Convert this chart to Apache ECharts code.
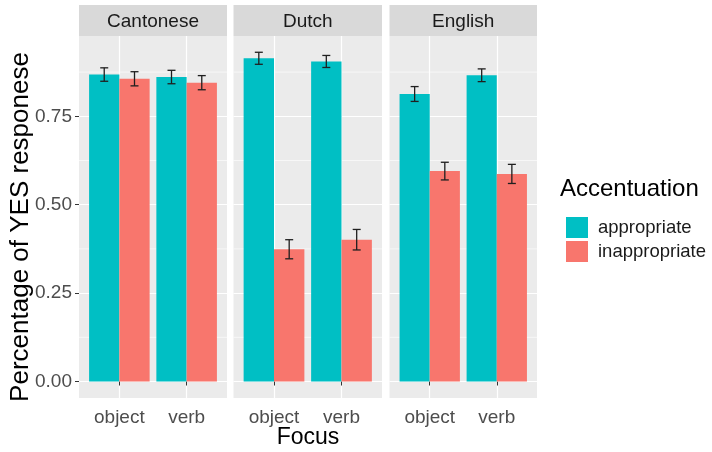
<!DOCTYPE html>
<html>
<head>
<meta charset="utf-8">
<script src="https://cdn.jsdelivr.net/npm/echarts@6/dist/echarts.min.js"></script>
<style>
  html, body { margin: 0; padding: 0; background: #fff; }
  #chart { width: 712px; height: 452px; }
</style>
</head>
<body>
<div id="chart"></div>
<script>
// Facets, x categories and the two accentuation groups
const languages = ['Cantonese', 'Dutch', 'English'];
const focusLevels = ['object', 'verb'];
const accentLevels = ['appropriate', 'inappropriate'];

// Mean proportion of YES responses, ordered language by language, object then verb
const appropriateMean = [0.868, 0.861, 0.914, 0.905, 0.813, 0.866];
const appropriateSE = [0.019, 0.019, 0.017, 0.017, 0.021, 0.018];
const inappropriateMean = [0.856, 0.845, 0.374, 0.401, 0.595, 0.587];
const inappropriateSE = [0.020, 0.020, 0.027, 0.029, 0.025, 0.027];

// Y axis ticks and minor grid positions
const yTicks = [0, 0.25, 0.5, 0.75];
const yMinor = [0.125, 0.375, 0.625, 0.875];

const FONT = '"Liberation Sans", Arial, sans-serif';
const COLORS = { appropriate: '#00BFC4', inappropriate: '#F8766D' };

// Panel layout (pixels)
const panelTop = 36, panelHeight = 362, stripTop = 5, stripHeight = 31;
const panels = [
  { left: 79, width: 148 },
  { left: 233.5, width: 148.5 },
  { left: 389.5, width: 147.5 }
];

const Y_MIN = -0.0466, Y_MAX = 0.977;
const DODGE = 0.225; // half of a bar width in x units

const grids = [], xAxes = [], yAxes = [], series = [], graphics = [];

panels.forEach((p, i) => {
  grids.push({
    left: p.left, top: panelTop, width: p.width, height: panelHeight,
    show: true, backgroundColor: '#EBEBEB', borderWidth: 0
  });
  xAxes.push({
    type: 'value', gridIndex: i, min: 0.4, max: 2.6,
    axisLine: { show: false },
    axisTick: { show: true, customValues: [1, 2], length: 4, lineStyle: { color: '#333', width: 1 } },
    axisLabel: {
      customValues: [1, 2], margin: 10,
      formatter: v => focusLevels[Math.round(v) - 1] || '',
      fontFamily: FONT, fontSize: 19, color: '#4D4D4D'
    },
    splitLine: { show: true, lineStyle: { color: '#FFFFFF', width: 1.2 } }
  });
  yAxes.push({
    type: 'value', gridIndex: i, min: Y_MIN, max: Y_MAX,
    axisLine: { show: false },
    axisTick: { show: i === 0, customValues: yTicks, length: 4, lineStyle: { color: '#333', width: 1 } },
    axisLabel: {
      show: i === 0, customValues: yTicks, margin: 7,
      formatter: v => v.toFixed(2),
      fontFamily: FONT, fontSize: 19, color: '#4D4D4D'
    },
    splitLine: { show: true, lineStyle: { color: '#FFFFFF', width: 1.2 } }
  });

  // minor horizontal grid lines
  series.push({
    type: 'custom', name: 'minor-grid', xAxisIndex: i, yAxisIndex: i, z: 1,
    silent: true,
    data: yMinor.map(v => [v]),
    renderItem: (params, api) => {
      const a = api.coord([0.4, api.value(0)]);
      const b = api.coord([2.6, api.value(0)]);
      return { type: 'line', shape: { x1: a[0], y1: a[1], x2: b[0], y2: b[1] },
               style: { stroke: '#FFFFFF', lineWidth: 0.6 } };
    }
  });

  const groups = [
    { name: 'appropriate', mean: appropriateMean, se: appropriateSE, sign: -1 },
    { name: 'inappropriate', mean: inappropriateMean, se: inappropriateSE, sign: 1 }
  ];
  groups.forEach(g => {
    const vals = focusLevels.map((f, j) => g.mean[i * 2 + j]);
    const errs = focusLevels.map((f, j) => g.se[i * 2 + j]);
    series.push({
      type: 'bar', name: g.name, xAxisIndex: i, yAxisIndex: i, z: 2,
      barWidth: '45%', barGap: '0%',
      itemStyle: { color: COLORS[g.name] },
      data: vals.map((v, j) => [j + 1, v])
    });
    series.push({
      type: 'custom', name: g.name + ' SE', xAxisIndex: i, yAxisIndex: i, z: 3,
      silent: true,
      data: vals.map((v, j) => [j + 1, v, v - errs[j], v + errs[j]]),
      encode: { x: 0, y: [1, 2, 3] },
      renderItem: (params, api) => {
        const x = api.value(0);
        const off = api.size([DODGE, 0], [x, 0])[0] * g.sign;
        const hi = api.coord([x, api.value(3)]);
        const lo = api.coord([x, api.value(2)]);
        const cx = hi[0] + off, cap = 4;
        const st = { stroke: '#1F1F1F', lineWidth: 1.3 };
        return { type: 'group', children: [
          { type: 'line', shape: { x1: cx, y1: hi[1], x2: cx, y2: lo[1] }, style: st },
          { type: 'line', shape: { x1: cx - cap, y1: hi[1], x2: cx + cap, y2: hi[1] }, style: st },
          { type: 'line', shape: { x1: cx - cap, y1: lo[1], x2: cx + cap, y2: lo[1] }, style: st }
        ] };
      }
    });
  });

  // facet strip
  graphics.push({
    type: 'rect', left: p.left, top: stripTop,
    shape: { width: p.width, height: stripHeight },
    style: { fill: '#D9D9D9' }, silent: true
  });
  graphics.push({
    type: 'text', x: p.left + p.width / 2, y: stripTop + stripHeight / 2 + 1,
    style: { text: languages[i], font: '19px ' + FONT, fill: '#1A1A1A',
             textAlign: 'center', textVerticalAlign: 'middle' }
  });
});

// axis titles
graphics.push({
  type: 'text', x: 21, y: 227, rotation: Math.PI / 2,
  style: { text: 'Percentage of YES responese', font: '26px ' + FONT, fill: '#000',
           textAlign: 'center', textVerticalAlign: 'middle' }
});
graphics.push({
  type: 'text', x: 308, y: 438,
  style: { text: 'Focus', font: '23px ' + FONT, fill: '#000',
           textAlign: 'center', textVerticalAlign: 'middle' }
});
// legend title
graphics.push({
  type: 'text', x: 560, y: 189,
  style: { text: 'Accentuation', font: '24px ' + FONT, fill: '#000',
           textAlign: 'left', textVerticalAlign: 'middle' }
});

const chart = echarts.init(document.getElementById('chart'), null, { renderer: 'canvas' });
chart.setOption({
  animation: false,
  backgroundColor: '#FFFFFF',
  grid: grids,
  xAxis: xAxes,
  yAxis: yAxes,
  legend: {
    data: accentLevels, orient: 'vertical', left: 561, top: 212,
    icon: 'rect', itemWidth: 22, itemHeight: 21, itemGap: 3,
    selectedMode: false,
    textStyle: { fontFamily: FONT, fontSize: 18.5, color: '#1A1A1A', padding: [0, 0, 0, 5] }
  },
  graphic: graphics,
  series: series
});
</script>
</body>
</html>
